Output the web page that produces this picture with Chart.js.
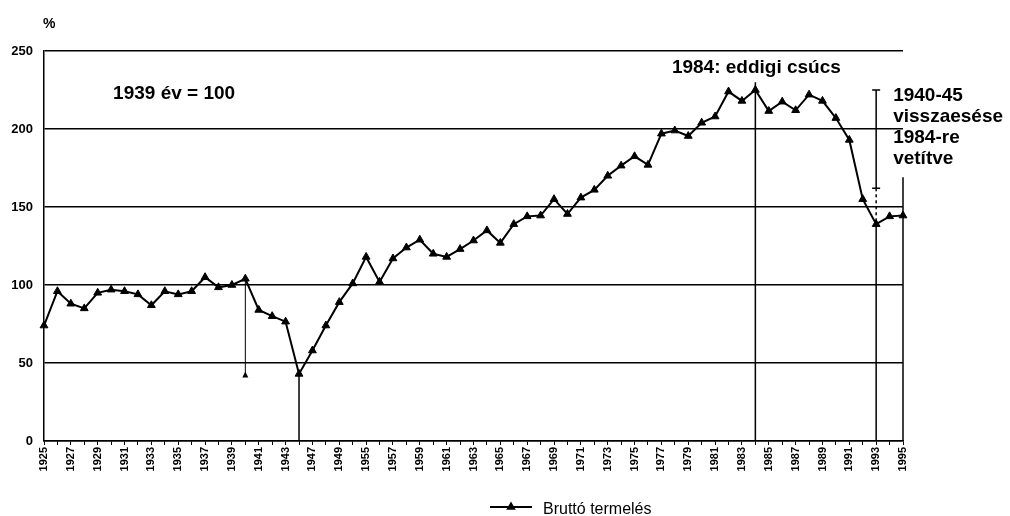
<!DOCTYPE html>
<html><head><meta charset="utf-8">
<script src="https://cdn.jsdelivr.net/npm/chart.js@4.4.1/dist/chart.umd.min.js"></script>
<style>html,body{margin:0;padding:0;background:#fff;overflow:hidden}#wrap{width:1010px;height:516px;position:relative}</style>
</head><body><div id="wrap"><canvas id="c" width="1010" height="516"></canvas></div>
<script>
// ---- data ----
const years = ['1925','1926','1927','1928','1929','1930','1931','1932','1933','1934','1935','1936','1937','1938','1939','1940','1941','1942','1943',
  '1945','1947','1948','1949','1950','1955',
  '1956','1957','1958','1959','1960','1961','1962','1963','1964','1965','1966','1967','1968','1969','1970','1971','1972','1973','1974','1975',
  '1976','1977','1978','1979','1980','1981','1982','1983','1984','1985','1986','1987','1988','1989','1990','1991','1992','1993','1994','1995'];
const seriesName = 'Bruttó termelés';
const production = [74,96,88,85,95,97,96,94,87,96,94,96,105,98.5,100,104,84,80,76.5,
  43,58,74,89,101,118,
  102,117,124,129,120,118,123,128.5,135,127,139,144,144.5,155,145.5,156,161,170,176.5,182.5,
  177,197,199,195.5,204,208,224,218,225,211.5,217.5,212,222,218,207,193,155,139,144,144.5];
const yTicks = [0,50,100,150,200,250];
// guide lines (category, upper value, lower value)
const guideYears  = ['1940','1945','1984','1993','1995'];
const guideTop    = [104, 43, 230, 139, 169];
const guideBottom = [42, 0, 0, 0, 0];
// projected 1940-45 fall onto 1984
const projYear = '1993';
const projTop = 225, projBottom = 162, projDashEnd = 139;
const unitLabel = '%';
const baseNote = '1939 év = 100';
const peakNote = '1984: eddigi csúcs';
const peakYear = '1984';
const baseNoteYear = '1930';
const sideNote = ['1940-45','visszaesése','1984-re','vetítve'];

const FONT = '"Liberation Sans", Arial, Helvetica, sans-serif';

const annot = {
  id: 'annot',
  beforeDatasetsDraw(chart) {
    const {ctx, scales:{x, y}} = chart;
    ctx.save();
    ctx.strokeStyle = '#000';
    ctx.fillStyle = '#000';
    guideYears.forEach((yr, i) => {
      const px = x.getPixelForValue(years.indexOf(yr));
      ctx.lineWidth = i === 0 ? 1 : 1.5;
      ctx.beginPath();
      ctx.moveTo(px, y.getPixelForValue(guideTop[i]));
      ctx.lineTo(px, y.getPixelForValue(guideBottom[i]));
      ctx.stroke();
      if (i === 0) {
        const by = y.getPixelForValue(guideBottom[i]);
        ctx.beginPath();
        ctx.moveTo(px, by - 4); ctx.lineTo(px + 3, by + 2); ctx.lineTo(px - 3, by + 2); ctx.closePath();
        ctx.fill();
      }
    });
    // projection bracket
    const bx = x.getPixelForValue(years.indexOf(projYear));
    const t = y.getPixelForValue(projTop), b = y.getPixelForValue(projBottom), d = y.getPixelForValue(projDashEnd);
    ctx.lineWidth = 1.5;
    ctx.beginPath();
    ctx.moveTo(bx, t); ctx.lineTo(bx, b);
    ctx.moveTo(bx - 4, t); ctx.lineTo(bx + 4, t);
    ctx.moveTo(bx - 4, b); ctx.lineTo(bx + 4, b);
    ctx.stroke();
    ctx.setLineDash([3, 3]);
    ctx.beginPath(); ctx.moveTo(bx, b); ctx.lineTo(bx, d); ctx.stroke();
    ctx.setLineDash([]);
    ctx.restore();
  },
  afterDraw(chart) {
    const {ctx, scales:{x, y}, chartArea} = chart;
    ctx.save();
    ctx.fillStyle = '#000';
    ctx.textBaseline = 'alphabetic';
    // unit
    ctx.font = 'bold 14px ' + FONT;
    ctx.textAlign = 'left';
    ctx.fillText(unitLabel, chartArea.left - 1, 28);
    // base note
    ctx.font = 'bold 19px ' + FONT;
    ctx.fillText(baseNote, x.getPixelForValue(years.indexOf(baseNoteYear)) + 2, 99);
    // peak note
    ctx.textAlign = 'center';
    ctx.fillText(peakNote, x.getPixelForValue(years.indexOf(peakYear)) + 1, 73);
    // side note
    ctx.textAlign = 'left';
    const sx = x.getPixelForValue(years.indexOf(projYear)) + 17;
    sideNote.forEach((s, i) => ctx.fillText(s, sx, 100.5 + i * 21));
    // legend
    const ds = chart.data.datasets[0];
    const lx0 = 490, lx1 = 532, ly = 507;
    ctx.strokeStyle = ds.borderColor; ctx.lineWidth = 2;
    ctx.beginPath(); ctx.moveTo(lx0, ly); ctx.lineTo(lx1, ly); ctx.stroke();
    const cx = (lx0 + lx1) / 2, r = 5.5;
    ctx.beginPath();
    ctx.moveTo(cx, ly - r); ctx.lineTo(cx + r * 0.87, ly + r * 0.5); ctx.lineTo(cx - r * 0.87, ly + r * 0.5); ctx.closePath();
    ctx.fill();
    ctx.font = '16px ' + FONT;
    ctx.textAlign = 'left';
    ctx.fillText(ds.label, 543, 514);
    ctx.restore();
  }
};

new Chart(document.getElementById('c'), {
  type: 'line',
  data: {
    labels: years,
    datasets: [{
      label: seriesName, data: production,
      borderColor: '#000', backgroundColor: '#000', borderWidth: 2,
      pointStyle: 'triangle', pointRadius: 4.5, pointHoverRadius: 4.5,
      pointBorderWidth: 1, tension: 0, clip: false
    }]
  },
  options: {
    responsive: false, animation: false, devicePixelRatio: 1,
    layout: { padding: { top: 51, right: 107, left: 0, bottom: 0 } },
    plugins: { legend: { display: false }, tooltip: { enabled: false } },
    scales: {
      x: {
        offset: false,
        grid: { display: true, drawOnChartArea: false, drawTicks: true, tickLength: 4, color: '#000', lineWidth: 1 },
        border: { display: true, color: '#000', width: 1.5 },
        ticks: { autoSkip: false, maxRotation: 90, minRotation: 90, padding: 2, color: '#000',
          font: { family: FONT, size: 11, weight: 'bold' },
          callback: (v, i) => (i % 2 === 0 ? years[i] : '') },
        afterFit: s => { s.height = 75; }
      },
      y: {
        min: 0, max: 250,
        afterBuildTicks: s => { s.ticks = yTicks.map(v => ({ value: v })); },
        ticks: { padding: 11, color: '#000', font: { family: FONT, size: 13, weight: 'bold' } },
        grid: { color: '#000', lineWidth: 1.5, drawTicks: false },
        border: { display: true, color: '#000', width: 1.5 },
        afterFit: s => { s.width = 44; }
      }
    }
  },
  plugins: [annot]
});
</script>
</body></html>
